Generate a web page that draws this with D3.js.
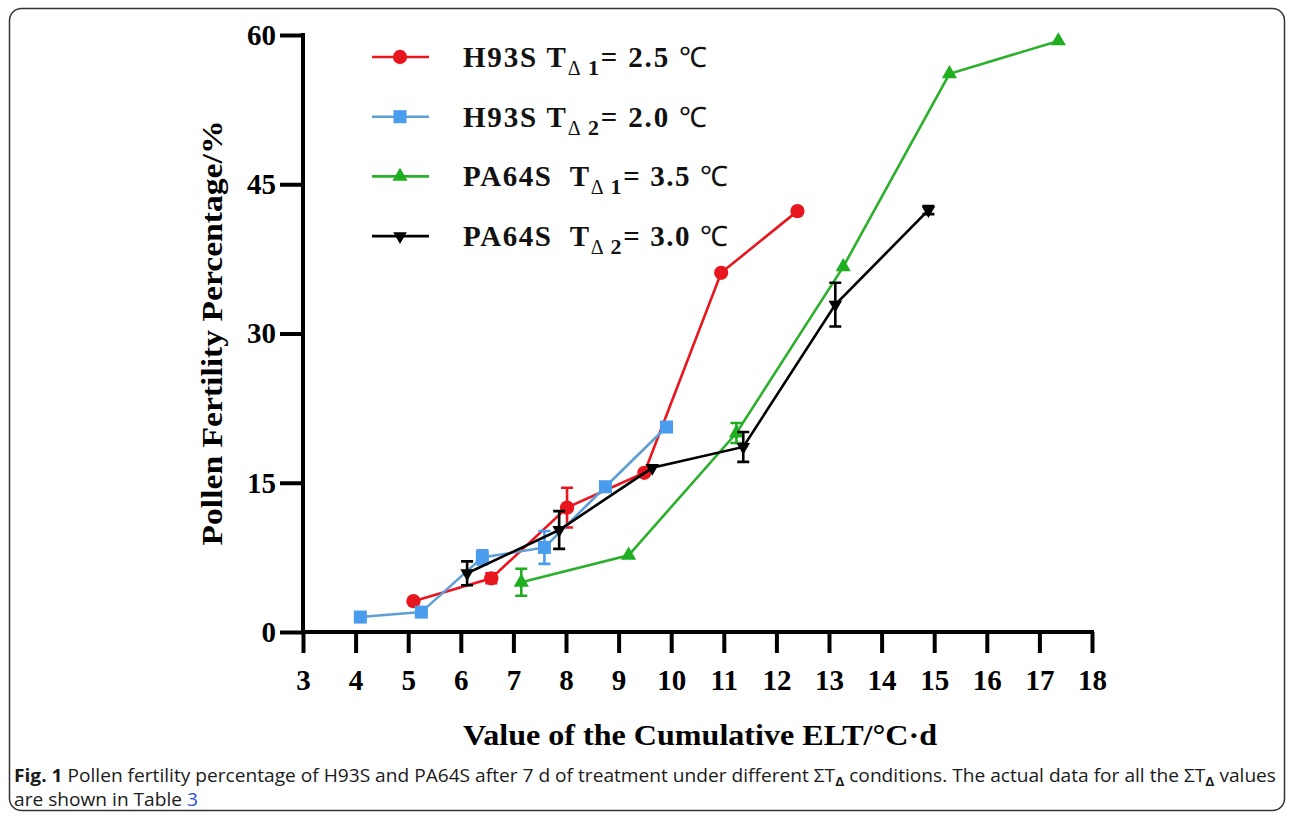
<!DOCTYPE html>
<html>
<head>
<meta charset="utf-8">
<script src="https://cdn.jsdelivr.net/npm/d3@7/dist/d3.min.js"></script>
<style>
body { margin: 0; background: #fff; }
svg text { white-space: pre; }
</style>
</head>
<body>
<svg id="chart"></svg>
<script>
// values
var xTicks = [3, 4, 5, 6, 7, 8, 9, 10, 11, 12, 13, 14, 15, 16, 17, 18];
var yTicks = [0, 15, 30, 45, 60];

var redX = [5.10, 6.58, 8.02, 9.49, 10.95, 12.40];
var redY = [3.1, 5.4, 12.5, 16.0, 36.1, 42.3];
var redErr = [0, 0.5, 2.0, 0, 0, 0];

var blueX = [4.09, 5.25, 6.41, 7.59, 8.75, 9.91];
var blueY = [1.5, 2.0, 7.5, 8.5, 14.6, 20.6];
var blueErr = [0, 0, 0.7, 1.65, 0, 0];

var greenX = [7.15, 9.19, 11.24, 13.27, 15.29, 17.36];
var greenY = [5.0, 7.7, 20.0, 36.7, 56.1, 59.4];
var greenErr = [1.35, 0, 1.0, 0, 0, 0];

var blackX = [6.12, 7.87, 9.64, 11.37, 13.12, 14.89];
var blackY = [5.9, 10.25, 16.5, 18.6, 32.9, 42.4];
var blackErr = [1.2, 1.9, 0, 1.5, 2.2, 0.4];

var legendNames = ["H93S T", "H93S T", "PA64S  T", "PA64S  T"];
var legendSubs = ["1", "2", "1", "2"];
var legendTemps = ["2.5", "2.0", "3.5", "3.0"];

var width = 1292, height = 816;
var svg = d3.select("#chart").attr("width", width).attr("height", height);
var serif = "'Liberation Serif', 'Times New Roman', serif";

// outer frame
svg.append("rect").attr("x", 9.5).attr("y", 8.5).attr("width", 1275).attr("height", 802)
	.attr("rx", 12).attr("fill", "none").attr("stroke", "#333").attr("stroke-width", 1.5);

var x = d3.scaleLinear().domain([3, 18]).range([303, 1092]);
var y = d3.scaleLinear().domain([0, 60]).range([632, 35]);

var xAxis = svg.append("g").attr("transform", "translate(0," + y(0) + ")")
	.call(d3.axisBottom(x).tickValues(xTicks).tickSize(21).tickSizeOuter(0).tickPadding(16));
var yAxis = svg.append("g").attr("transform", "translate(" + x(3) + ",0)")
	.call(d3.axisLeft(y).tickValues(yTicks).tickSize(23).tickSizeOuter(0).tickPadding(4));

[xAxis, yAxis].forEach(function(a) {
	a.select(".domain").attr("stroke", "#000").attr("stroke-width", 4);
	a.selectAll(".tick line").attr("stroke", "#000").attr("stroke-width", 4);
	a.selectAll(".tick text").attr("fill", "#000").attr("font-family", serif)
		.attr("font-weight", "bold").attr("font-size", 29);
});
yAxis.select(".domain").attr("d", "M0," + (y(0) + 2) + "V" + (y(60) - 2));
xAxis.select(".domain").attr("d", "M" + (x(3) - 2) + ",0H" + (x(18) + 2));

var series = [
	{ xs: redX, ys: redY, es: redErr, color: "#e8161e", line: "#e8161e", shape: "circle" },
	{ xs: blueX, ys: blueY, es: blueErr, color: "#4a9cec", line: "#5e9fd6", shape: "square" },
	{ xs: greenX, ys: greenY, es: greenErr, color: "#1fae1f", line: "#2bb02b", shape: "up" },
	{ xs: blackX, ys: blackY, es: blackErr, color: "#000", line: "#000", shape: "down" }
];

function marker(shape) {
	if (shape == "circle") return d3.symbol().type(d3.symbolCircle).size(160)();
	if (shape == "square") return d3.symbol().type(d3.symbolSquare).size(170)();
	if (shape == "up") return d3.symbol().type(d3.symbolTriangle).size(100)();
	return d3.symbol().type(d3.symbolTriangle).size(80)();
}

var line = d3.line().x(function(d) { return x(d[0]); }).y(function(d) { return y(d[1]); });

series.forEach(function(s) {
	var pts = s.xs.map(function(v, i) { return [v, s.ys[i], s.es[i]]; });
	var g = svg.append("g");
	g.append("path").attr("d", line(pts)).attr("fill", "none")
		.attr("stroke", s.line).attr("stroke-width", 2.6);
	pts.forEach(function(p) {
		if (p[2] > 0) {
			var px = x(p[0]), top = y(p[1] + p[2]), bot = y(p[1] - p[2]);
			g.append("path")
				.attr("d", "M" + px + "," + top + "V" + bot + "M" + (px - 6) + "," + top + "H" + (px + 6) +
					"M" + (px - 6) + "," + bot + "H" + (px + 6))
				.attr("stroke", s.color).attr("stroke-width", 2.6).attr("fill", "none");
		}
		g.append("path").attr("d", marker(s.shape))
			.attr("transform", "translate(" + x(p[0]) + "," + y(p[1]) + ")" + (s.shape == "down" ? " rotate(180)" : ""))
			.attr("fill", s.color);
	});
});

// legend
var legendWidths = [244, 244, 265, 265];
series.forEach(function(s, i) {
	var ly = 57 + i * 59.7;
	var g = svg.append("g").attr("transform", "translate(0," + ly + ")");
	g.append("line").attr("x1", 372).attr("x2", 429).attr("stroke", s.line).attr("stroke-width", 2.6);
	g.append("path").attr("d", marker(s.shape))
		.attr("transform", "translate(400,0)" + (s.shape == "down" ? " rotate(180)" : ""))
		.attr("fill", s.color);
	var t = g.append("text").attr("x", 463).attr("y", 10).attr("font-family", serif)
		.attr("font-weight", "bold").attr("font-size", 29).attr("fill", "#111")
		.attr("textLength", legendWidths[i]).attr("lengthAdjust", "spacing");
	t.append("tspan").text(legendNames[i]);
	t.append("tspan").attr("dy", 8).attr("font-size", 20).attr("font-weight", "normal").text("Δ ");
	t.append("tspan").attr("font-size", 22).text(legendSubs[i]);
	t.append("tspan").attr("dy", -8).text("= " + legendTemps[i] + " ");
	t.append("tspan").attr("font-weight", "normal").attr("font-size", 28).text("℃");
});

// axis titles
svg.append("text").attr("x", 700).attr("y", 745).attr("text-anchor", "middle")
	.attr("font-family", serif).attr("font-weight", "bold").attr("font-size", 29)
	.attr("textLength", 474).attr("lengthAdjust", "spacingAndGlyphs")
	.text("Value of the Cumulative ELT/°C·d");
svg.append("text").attr("transform", "translate(222,333) rotate(-90)").attr("text-anchor", "middle")
	.attr("font-family", serif).attr("font-weight", "bold").attr("font-size", 29)
	.attr("textLength", 425).attr("lengthAdjust", "spacingAndGlyphs")
	.text("Pollen Fertility Percentage/%");

// caption
var sans = "'Open Sans', 'Noto Sans', sans-serif";
var c1 = svg.append("text").attr("x", 14).attr("y", 782).attr("font-family", sans)
	.attr("font-size", 18).attr("fill", "#1a1a1a");
c1.append("tspan").attr("font-weight", "bold").text("Fig. 1");
c1.append("tspan").text(" Pollen fertility percentage of H93S and PA64S after 7 d of treatment under different ΣT");
c1.append("tspan").attr("font-weight", "bold").attr("font-size", 13).attr("dy", 4).text("Δ");
c1.append("tspan").attr("dy", -4).text(" conditions. The actual data for all the ΣT");
c1.append("tspan").attr("font-weight", "bold").attr("font-size", 13).attr("dy", 4).text("Δ");
c1.append("tspan").attr("dy", -4).text(" values");
var w1 = c1.node().getComputedTextLength();
var ratio = 1262 / w1;
c1.attr("textLength", 1262).attr("lengthAdjust", "spacingAndGlyphs");

var c2 = svg.append("text").attr("x", 14).attr("y", 806).attr("font-family", sans)
	.attr("font-size", 18).attr("fill", "#1a1a1a");
c2.append("tspan").text("are shown in Table ");
c2.append("tspan").attr("fill", "#2b4fd8").text("3");
var w2 = c2.node().getComputedTextLength();
c2.attr("textLength", w2 * ratio).attr("lengthAdjust", "spacingAndGlyphs");
</script>
</body>
</html>
